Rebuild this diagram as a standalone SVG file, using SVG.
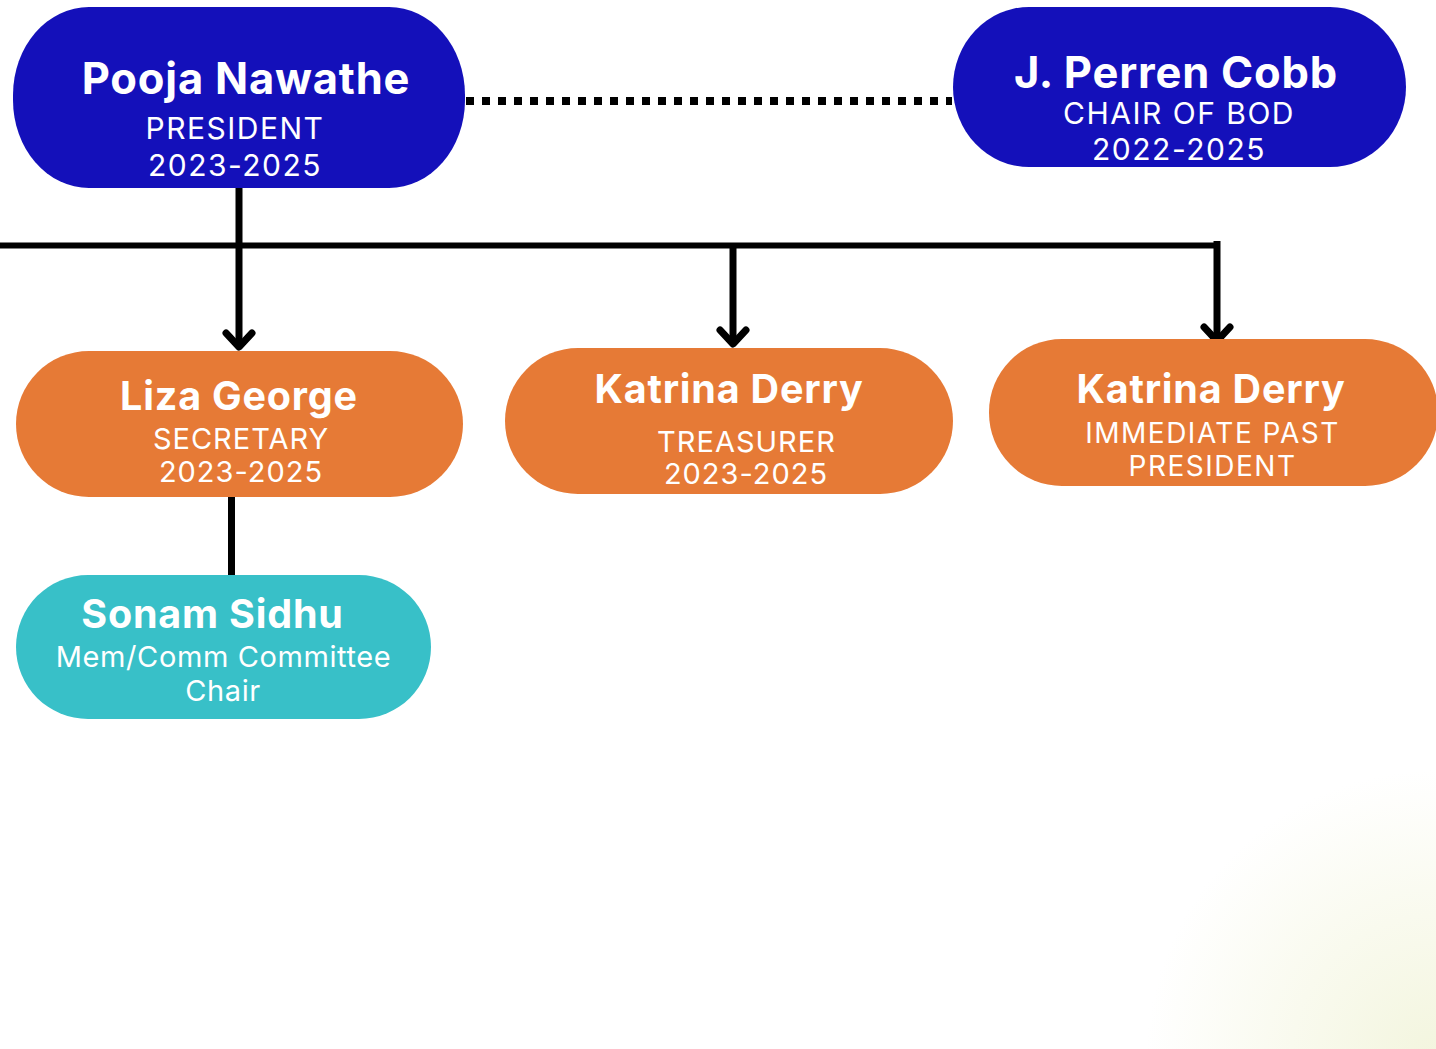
<svg xmlns="http://www.w3.org/2000/svg" width="1436" height="1049" viewBox="0 0 1436 1049">
<defs>
<radialGradient id="glow" cx="1436" cy="1060" r="290" gradientUnits="userSpaceOnUse">
<stop offset="0" stop-color="#f3f5de"/>
<stop offset="0.5" stop-color="#f9faee"/>
<stop offset="1" stop-color="#ffffff"/>
</radialGradient>
<style>
.t{font-family:Inter,"Liberation Sans",sans-serif;font-weight:700;fill:#fff;text-anchor:middle;letter-spacing:0.8px}
.s{font-family:Inter,"Liberation Sans",sans-serif;font-weight:400;fill:#fff;text-anchor:middle;letter-spacing:1.5px}
.s1{letter-spacing:1px}
.s0{letter-spacing:0.6px}
.blue{fill:#1410ba}
.orange{fill:#e67a36}
.teal{fill:#38c0c8}
.ln{stroke:#000;stroke-width:7;fill:none;stroke-linecap:butt}
.ar{stroke:#000;stroke-width:7;fill:none;stroke-linecap:round;stroke-linejoin:round}
</style>
</defs>
<rect width="1436" height="1049" fill="#fff"/>
<rect width="1436" height="1049" fill="url(#glow)"/>
<g id="connectors">
<line x1="466" y1="101" x2="952" y2="101" stroke="#000" stroke-width="8" stroke-dasharray="8 8"/>
<line class="ln" x1="0" y1="245.5" x2="1217" y2="245.5" style="stroke-width:6"/>
<line class="ln" x1="239" y1="186" x2="239" y2="346"/>
<polyline class="ar" points="226,333 239,347 252,333"/>
<line class="ln" x1="733" y1="245" x2="733" y2="344"/>
<polyline class="ar" points="720,330 733,344 746,330"/>
<line class="ln" x1="1217" y1="241" x2="1217" y2="341"/>
<polyline class="ar" points="1204,327 1217,341 1230,327"/>
<line class="ln" x1="231.5" y1="495" x2="231.5" y2="577"/>
</g>
<g id="pooja">
<rect class="blue" x="13" y="7" width="452" height="181" rx="76" ry="88"/>
<text class="t" x="246" y="94" font-size="43.5">Pooja Nawathe</text>
<text class="s" x="235" y="139" font-size="30">PRESIDENT</text>
<text class="s" x="235" y="176" font-size="30">2023-2025</text>
</g>
<g id="cobb">
<rect class="blue" x="953" y="7" width="453" height="160" rx="76" ry="80"/>
<text class="t" x="1176" y="88" font-size="43.5">J. Perren Cobb</text>
<text class="s" x="1179" y="124" font-size="30">CHAIR OF BOD</text>
<text class="s" x="1179" y="160" font-size="30">2022-2025</text>
</g>
<g id="liza">
<rect class="orange" x="16" y="351" width="447" height="146" rx="73" ry="73"/>
<text class="t" x="239" y="410" font-size="39.5">Liza George</text>
<text class="s s1" x="241" y="449" font-size="29">SECRETARY</text>
<text class="s s1" x="241" y="482" font-size="29">2023-2025</text>
</g>
<g id="treasurer">
<rect class="orange" x="505" y="348" width="448" height="146" rx="73" ry="73"/>
<text class="t" x="729" y="403" font-size="39.5">Katrina Derry</text>
<text class="s s1" x="746.5" y="452" font-size="29">TREASURER</text>
<text class="s s1" x="746" y="484" font-size="29">2023-2025</text>
</g>
<g id="pastpresident">
<rect class="orange" x="989" y="339" width="449" height="147" rx="73" ry="73"/>
<text class="t" x="1211" y="403" font-size="39.5">Katrina Derry</text>
<text class="s" x="1212.5" y="443" font-size="28">IMMEDIATE PAST</text>
<text class="s" x="1212.5" y="476" font-size="28">PRESIDENT</text>
</g>
<g id="sonam">
<rect class="teal" x="16" y="575" width="415" height="144" rx="72" ry="72"/>
<text class="t" x="212.5" y="628" font-size="39.5">Sonam Sidhu</text>
<text class="s s0" x="223.5" y="667" font-size="29">Mem/Comm Committee</text>
<text class="s s0" x="223" y="701" font-size="29">Chair</text>
</g>
</svg>
